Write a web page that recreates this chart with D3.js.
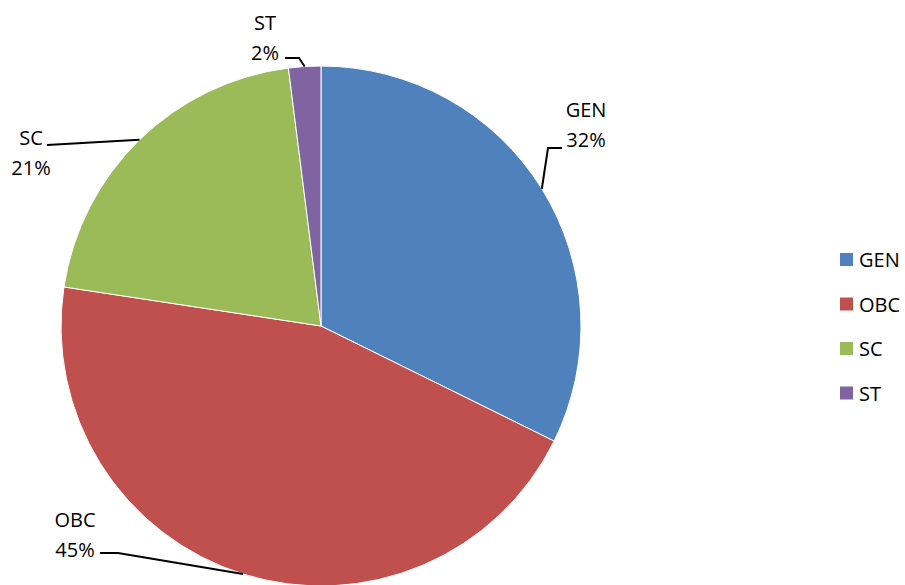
<!DOCTYPE html>
<html>
<head>
<meta charset="utf-8">
<script src="https://cdn.jsdelivr.net/npm/d3@7"></script>
<style>
  body { margin: 0; background: #fff; }
  svg text { font-family: "Open Sans", "Liberation Sans", sans-serif; fill: #000; }
</style>
</head>
<body>
<svg id="chart" width="905" height="585"></svg>
<script>
const categories = ['GEN', 'OBC', 'SC', 'ST'];
const values = [32.3, 45.1, 20.6, 2.0];
const colors = ['#4F81BD', '#C0504D', '#9BBB59', '#8064A2'];

// label layout: centre of text block + leader elbow points
const labelLayout = {
  GEN: { x: 586, y: 117, path: [[562, 148], [548, 148]] },
  OBC: { x: 75, y: 527, path: [[100, 553], [118, 553]] },
  SC:  { x: 31, y: 145, path: [[47, 145]] },
  ST:  { x: 265, y: 30, path: [[285, 58], [299, 58]] }
};

const svg = d3.select('#chart');
const cx = 321, cy = 326, r = 260;
const g = svg.append('g').attr('transform', `translate(${cx},${cy})`);

const data = categories.map((c, i) => ({ name: c, value: values[i], color: colors[i] }));
const pie = d3.pie().value(d => d.value).sort(null);
const arc = d3.arc().innerRadius(0).outerRadius(r);
const arcs = pie(data);
const total = d3.sum(values);

g.selectAll('path.slice').data(arcs).enter().append('path')
  .attr('class', 'slice')
  .attr('d', arc)
  .attr('fill', d => d.data.color)
  .attr('stroke', '#fff')
  .attr('stroke-width', 1);

// leader lines + labels
arcs.forEach(a => {
  const L = labelLayout[a.data.name];
  const mid = (a.startAngle + a.endAngle) / 2;
  const edge = [cx + r * Math.sin(mid), cy - r * Math.cos(mid)];
  svg.append('path')
    .attr('d', d3.line()(L.path.concat([edge])))
    .attr('fill', 'none')
    .attr('stroke', '#000')
    .attr('stroke-width', 2);
  const pct = Math.round(a.data.value / total * 100) + '%';
  const t = svg.append('text')
    .attr('x', L.x).attr('y', L.y)
    .attr('text-anchor', 'middle')
    .attr('font-size', 20);
  t.append('tspan').attr('x', L.x).text(a.data.name);
  t.append('tspan').attr('x', L.x).attr('dy', 30).text(pct);
});

// legend
const legend = svg.append('g').attr('transform', 'translate(840,253)');
const li = legend.selectAll('g').data(data).enter().append('g')
  .attr('transform', (d, i) => `translate(0,${i * 44.5})`);
li.append('rect').attr('width', 13).attr('height', 13).attr('fill', d => d.color);
li.append('text').attr('x', 19).attr('y', 14).attr('font-size', 20).text(d => d.name);
</script>
</body>
</html>
